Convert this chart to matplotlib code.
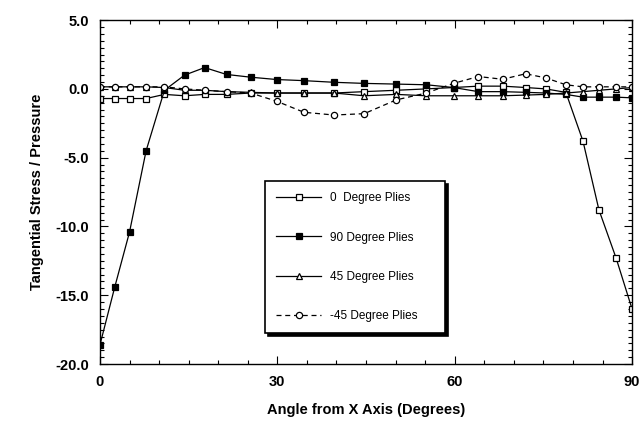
import matplotlib
matplotlib.use("Agg")
import matplotlib.pyplot as plt
from matplotlib.ticker import MultipleLocator

# Angular positions of the nodes around the hole (degrees)
angles = [0, 2.5, 5, 7.8, 10.9, 14.3, 17.7, 21.4, 25.5, 29.9, 34.5, 39.6, 44.7,
          50.1, 55.2, 59.8, 64.0, 68.1, 72.0, 75.4, 78.8, 81.7, 84.4, 87.3, 90]

ply_0 = [-0.7, -0.7, -0.7, -0.7, -0.4, -0.5, -0.4, -0.4, -0.3, -0.3, -0.3, -0.3, -0.2,
         -0.1, 0.0, 0.1, 0.2, 0.2, 0.1, 0.0, -0.25, -3.8, -8.8, -12.3, -16.0]
ply_90 = [-18.6, -14.4, -10.4, -4.5, -0.1, 1.0, 1.55, 1.05, 0.85, 0.68, 0.6, 0.48, 0.4,
          0.35, 0.3, 0.1, -0.2, -0.2, -0.25, -0.3, -0.4, -0.6, -0.6, -0.6, -0.65]
ply_45 = [0.15, 0.15, 0.15, 0.15, 0.1, -0.1, -0.1, -0.2, -0.25, -0.3, -0.3, -0.3, -0.5,
          -0.4, -0.5, -0.5, -0.5, -0.5, -0.45, -0.4, -0.3, -0.2, -0.1, 0.0, 0.1]
ply_m45 = [0.15, 0.15, 0.15, 0.15, 0.15, 0.0, -0.1, -0.2, -0.3, -0.9, -1.7, -1.9, -1.8,
           -0.8, -0.3, 0.4, 0.9, 0.7, 1.1, 0.8, 0.3, 0.15, 0.15, 0.15, 0.15]

labels = ["0  Degree Plies", "90 Degree Plies", "45 Degree Plies", "-45 Degree Plies"]

plt.rcParams['font.family'] = ['Liberation Sans', 'DejaVu Sans']

fig = plt.figure(figsize=(6.43, 4.28), dpi=100)
ax = fig.add_axes([0.1555, 0.1495, 0.8275, 0.8035])

common = dict(color='black', lw=0.9, ms=4.5, markeredgewidth=0.9)
ax.plot(angles, ply_0, marker='s', mfc='white', label=labels[0], **common)
ax.plot(angles, ply_90, marker='s', mfc='black', label=labels[1], **common)
ax.plot(angles, ply_45, marker='^', mfc='white', label=labels[2], **common)
ax.plot(angles, ply_m45, marker='o', mfc='white', ls=(0, (4, 3)), label=labels[3], **common)

ax.set_xlim(0, 90)
ax.set_ylim(-20, 5)
ax.xaxis.set_major_locator(MultipleLocator(30))
ax.xaxis.set_minor_locator(MultipleLocator(5))
ax.yaxis.set_major_locator(MultipleLocator(5))
ax.yaxis.set_minor_locator(MultipleLocator(0.5))
ax.yaxis.set_major_formatter(plt.FormatStrFormatter('%.1f'))
ax.tick_params(which='both', direction='in', top=True, right=True, width=0.8)
ax.tick_params(which='major', length=6, labelsize=10.5, pad=8)
ax.tick_params(which='minor', length=3)
for lbl in ax.get_xticklabels() + ax.get_yticklabels():
    lbl.set_fontweight('bold')
for s in ax.spines.values():
    s.set_linewidth(1.0)

ax.set_xlabel("Angle from X Axis (Degrees)", fontsize=10.5, fontweight='bold', labelpad=10)
ax.set_ylabel("Tangential Stress / Pressure", fontsize=10.5, fontweight='bold', labelpad=8)

leg = ax.legend(loc='lower left', bbox_to_anchor=(0.31, 0.09, 0.338, 0.436), mode='expand',
                frameon=True, fancybox=False, shadow={'color': 'black', 'alpha': 1.0},
                edgecolor='black', fontsize=8.5, handlelength=3.8, labelspacing=2.3,
                borderpad=0.95, handletextpad=0.8, borderaxespad=0)
leg.get_frame().set_linewidth(1.2)

fig.savefig("out.png", dpi=100)
